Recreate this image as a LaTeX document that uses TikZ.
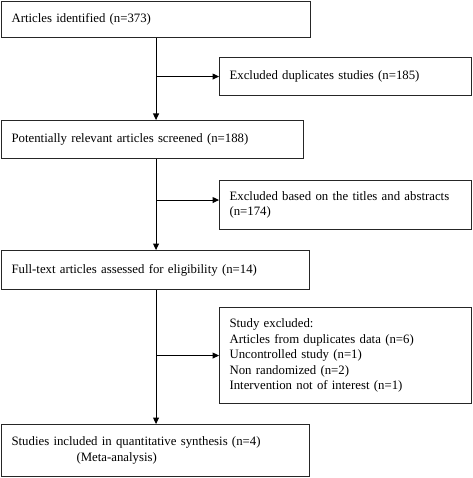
\documentclass[tikz,border=0pt]{standalone}
\usepackage{fontspec}
\setmainfont{Liberation Serif}
\usetikzlibrary{arrows.meta}

\begin{document}
\begin{tikzpicture}[x=1pt,y=-1pt,
    box/.style={draw=black!85,line width=1.1pt,anchor=north west,inner xsep=10pt,inner ysep=0pt,align=left,font=\fontsize{12.8}{15.4}\selectfont},
    flow/.style={line width=1.1pt,-{Triangle[length=6.5pt,width=6pt]}}]
    \useasboundingbox(0,0)rectangle(472,478);
    \node[box,text width=289pt,minimum height=36pt](ident)at(1,1){Articles identified (n=373)};
    \node[box,text width=232pt,minimum height=38pt](dup)at(219,57){Excluded duplicates studies (n=185)};
    \node[box,text width=282pt,minimum height=38pt](screen)at(1,120){Potentially relevant articles screened (n=188)};
    \node[box,text width=232pt,minimum height=49pt](titles)at(219,180){Excluded based on the titles and abstracts\\(n=174)};
    \node[box,text width=288pt,minimum height=39pt](full)at(1,250){Full-text articles assessed for eligibility (n=14)};
    \node[box,text width=232pt,minimum height=96pt](excl)at(219,307){Study excluded:\\Articles from duplicates data (n=6)\\Uncontrolled study (n=1)\\Non randomized (n=2)\\Intervention not of interest (n=1)};
    \node[box,text width=288pt,minimum height=52pt](incl)at(1,424){Studies included in quantitative synthesis (n=4)\\\hspace*{65pt}(Meta-analysis)};
    \draw[flow](ident.south)--(ident.south|-screen.north);
    \draw[flow](ident.south|-screen.south)--(ident.south|-full.north);
    \draw[flow](ident.south|-full.south)--(ident.south|-incl.north);
    \draw[flow](ident.south|-dup.west)--(dup.west);
    \draw[flow]([yshift=5pt]ident.south|-titles.west)--([yshift=5pt]titles.west);
    \draw[flow](ident.south|-excl.west)--(excl.west);
\end{tikzpicture}
\end{document}
